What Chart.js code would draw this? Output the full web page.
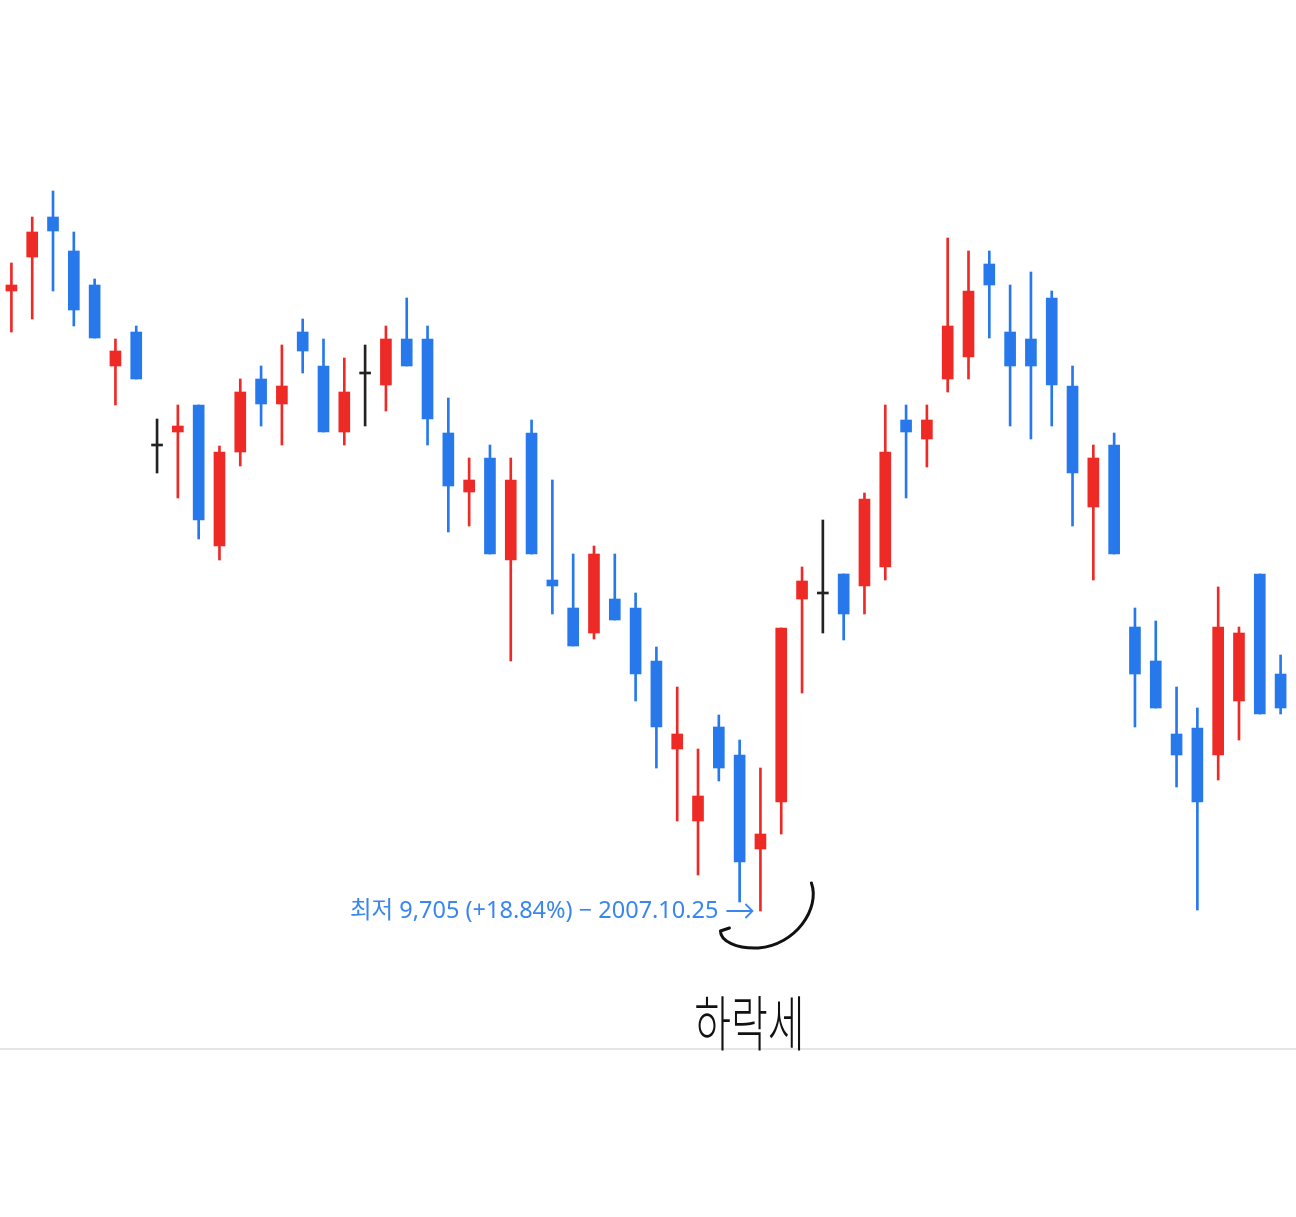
<!DOCTYPE html>
<html>
<head>
<meta charset="utf-8">
<script src="https://cdn.jsdelivr.net/npm/chart.js@4"></script>
<style>
  html, body { margin: 0; padding: 0; background: #fff; }
  #wrap { width: 1296px; height: 1217px; position: relative; }
</style>
</head>
<body>
<div id="wrap"><canvas id="chart"></canvas></div>
<script>
// daily candles, 2007.08.30 ~ 2007.11.29
const dates = [
  '2007.08.30', '2007.08.31', '2007.09.03', '2007.09.04', '2007.09.05', '2007.09.06', '2007.09.07',
  '2007.09.10', '2007.09.11', '2007.09.12', '2007.09.13', '2007.09.14', '2007.09.17', '2007.09.18',
  '2007.09.19', '2007.09.20', '2007.09.21', '2007.09.27', '2007.09.28', '2007.10.01', '2007.10.02',
  '2007.10.04', '2007.10.05', '2007.10.08', '2007.10.09', '2007.10.10', '2007.10.11', '2007.10.12',
  '2007.10.15', '2007.10.16', '2007.10.17', '2007.10.18', '2007.10.19', '2007.10.22', '2007.10.23',
  '2007.10.24', '2007.10.25', '2007.10.26', '2007.10.29', '2007.10.30', '2007.10.31', '2007.11.01',
  '2007.11.02', '2007.11.05', '2007.11.06', '2007.11.07', '2007.11.08', '2007.11.09', '2007.11.12',
  '2007.11.13', '2007.11.14', '2007.11.15', '2007.11.16', '2007.11.19', '2007.11.20', '2007.11.21',
  '2007.11.22', '2007.11.23', '2007.11.26', '2007.11.27', '2007.11.28', '2007.11.29'
]

const opens = [
  15285, 15591, 15951, 15645, 15339, 14610, 14916, 13890, 14016, 14259, 12990, 13836, 14493, 14268,
  14916, 14610, 14016, 14538, 14439, 14853, 14853, 14007, 13476, 13782, 12864, 14007, 12684, 12432,
  12207, 12513, 12432, 11955, 11163, 10515, 11361, 11109, 10263, 10686, 12513, 12558, 12738, 12630,
  12801, 14124, 13953, 14493, 14691, 15528, 14916, 14853, 15222, 14430, 13341, 13899, 12261, 11955,
  11298, 11352, 11109, 11595, 12738, 11838
]
const highs = [
  15537, 15951, 16185, 15816, 15393, 14853, 14970, 14133, 14259, 14259, 13890, 14493, 14610, 14799,
  15033, 14853, 14682, 14799, 14970, 15222, 14970, 14322, 13782, 13899, 13782, 14124, 13584, 12918,
  12990, 12918, 12567, 12081, 11721, 11163, 11469, 11244, 10992, 12252, 12801, 13224, 12738, 13467,
  14259, 14259, 14259, 15762, 15645, 15645, 15339, 15456, 15285, 14610, 13899, 14007, 12432, 12315,
  11721, 11532, 12621, 12261, 12738, 12009
]
const lows = [
  14916, 15033, 15285, 14970, 14862, 14259, 14493, 13647, 13422, 13053, 12864, 13710, 14070, 13899,
  14547, 14016, 13899, 14070, 14205, 14610, 13899, 13116, 13170, 12918, 11955, 12918, 12378, 12090,
  12153, 12324, 11595, 10992, 10515, 10029, 10875, 9786, 9705, 10398, 11667, 12207, 12144, 12378,
  12684, 13422, 13701, 14376, 14493, 14862, 14070, 13953, 14070, 13170, 12684, 12918, 11361, 11532,
  10821, 9714, 10884, 11244, 11478, 11478
]
const closes = [
  15339, 15816, 15825, 15114, 14862, 14745, 14493, 13890, 14070, 13224, 13836, 14376, 14268, 14430,
  14745, 14016, 14376, 14538, 14853, 14610, 14133, 13530, 13584, 12918, 13584, 12918, 12630, 12090,
  12918, 12324, 11838, 11361, 11298, 10740, 10992, 10146, 10398, 12252, 12675, 12558, 12378, 13413,
  13836, 14016, 14124, 14970, 15285, 15339, 14610, 14610, 14439, 13647, 13782, 12918, 11838, 11532,
  11109, 10686, 12261, 12207, 11478, 11532
]

const annotationText = '최저 9,705 (+18.84%) − 2007.10.25'
const handNote = '하락세'

const RED = '#ED2A26'
const BLUE = '#2779EB'
const FLAT = '#222222'

function candleColor(i) {
  if (closes[i] > opens[i]) return RED
  if (closes[i] < opens[i]) return BLUE
  return FLAT
}
const colors = dates.map((d, i) => candleColor(i))

// lowest point marker + handwriting
const lowPlugin = {
  id: 'lowPlugin',
  afterDraw(chart) {
    const ctx = chart.ctx
    const x = chart.scales.x
    const y = chart.scales.y
    const area = chart.chartArea

    // baseline
    ctx.save()
    ctx.strokeStyle = '#E6E6E6'
    ctx.lineWidth = 2
    ctx.beginPath()
    ctx.moveTo(0, area.bottom + 1)
    ctx.lineTo(chart.width, area.bottom + 1)
    ctx.stroke()
    ctx.restore()

    let idx = 0
    for (let i = 1; i < lows.length; i++) {
      if (lows[i] < lows[idx]) idx = i
    }
    const px = x.getPixelForValue(idx)
    const py = y.getPixelForValue(lows[idx])

    ctx.save()
    ctx.fillStyle = '#3A86EF'
    ctx.font = '23.5px "Noto Sans", "Noto Sans CJK KR", sans-serif'
    ctx.textAlign = 'right'
    ctx.textBaseline = 'middle'
    ctx.fillText(annotationText, px - 42, py)
    // arrow
    ctx.strokeStyle = '#3A86EF'
    ctx.lineWidth = 1.8
    ctx.beginPath()
    ctx.moveTo(px - 34, py)
    ctx.lineTo(px - 8, py)
    ctx.moveTo(px - 15, py - 7)
    ctx.lineTo(px - 8, py)
    ctx.lineTo(px - 15, py + 7)
    ctx.stroke()
    ctx.restore()

    // hand drawn hook
    ctx.save()
    ctx.strokeStyle = '#111'
    ctx.lineWidth = 3
    ctx.lineCap = 'round'
    ctx.lineJoin = 'round'
    ctx.beginPath()
    ctx.moveTo(px + 51, py - 28)
    ctx.bezierCurveTo(px + 60, py - 2, px + 35, py + 34, px - 2, py + 37)
    ctx.bezierCurveTo(px - 24, py + 38, px - 40, py + 30, px - 40, py + 20)
    ctx.lineTo(px - 31, py + 17)
    ctx.stroke()

    ctx.fillStyle = '#111'
    ctx.font = '300 40px "Noto Sans CJK KR", sans-serif'
    ctx.textAlign = 'center'
    ctx.textBaseline = 'middle'
    ctx.translate(px - 11, py + 112)
    ctx.scale(1, 1.5)
    ctx.fillText(handNote, 0, 0)
    ctx.restore()
  }
}

new Chart(document.getElementById('chart'), {
  type: 'bar',
  data: {
    labels: dates,
    datasets: [
      {
        label: 'body',
        data: opens.map((o, i) => [o, closes[i]]),
        backgroundColor: colors,
        barThickness: 11,
        minBarLength: 2,
        grouped: false
      },
      {
        label: 'wick',
        data: lows.map((l, i) => [l, highs[i]]),
        backgroundColor: colors,
        barThickness: 2,
        grouped: false
      }
    ]
  },
  options: {
    responsive: true,
    maintainAspectRatio: false,
    animation: false,
    layout: { padding: { top: 0, bottom: 169, left: 1, right: 5 } },
    plugins: {
      legend: { display: false },
      tooltip: { enabled: false }
    },
    scales: {
      x: { display: false, offset: true },
      y: { display: false, min: 8472, max: 17904 }
    }
  },
  plugins: [lowPlugin]
})
</script>
</body>
</html>
